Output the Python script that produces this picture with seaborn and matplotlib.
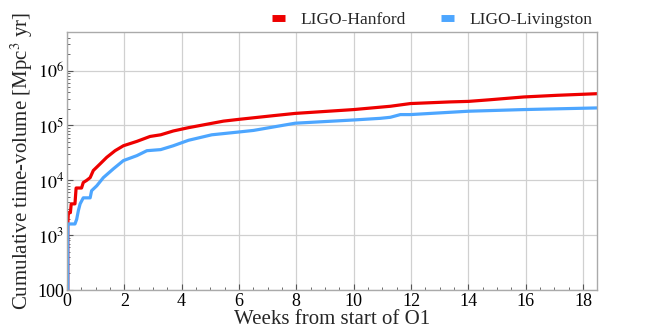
#!/usr/bin/env python3
# Cumulative time-volume per detector over O1 (log y), seaborn lineplot.

import numpy as np
import pandas as pd
import seaborn as sns
import matplotlib.pyplot as plt
from matplotlib.ticker import FuncFormatter, LogLocator, MultipleLocator

DETECTORS = ["LIGO-Hanford", "LIGO-Livingston"]
PALETTE   = ["#ee0000", "#4da6ff"]

# weeks from start of O1 / cumulative VT [Mpc^3 yr]
H1_WEEKS = [0.03, 0.03, 0.05, 0.12, 0.15, 0.28, 0.32, 0.51, 0.57, 0.69, 0.81, 0.92,
            1.16, 1.39, 1.68, 1.97, 2.44, 2.90, 3.27, 3.71, 4.24, 5.46, 5.98, 7.20,
            7.96, 10.0, 11.28, 11.98, 13.37, 14.01, 14.77, 15.93, 17.1, 18.5]
H1_VT    = [100, 1580, 2570, 2570, 3720, 3720, 7240, 7240, 9120, 10000, 11200, 15100,
            20000, 26300, 34700, 42700, 51300, 63100, 67600, 79400, 91200, 120000, 129000, 151000,
            166000, 195000, 224000, 251000, 269000, 275000, 295000, 331000, 355000, 380000]

L1_WEEKS = [0.03, 0.03, 0.28, 0.34, 0.40, 0.46, 0.57, 0.81, 0.86, 1.04, 1.27, 1.62,
            1.97, 2.44, 2.79, 3.27, 3.71, 4.24, 5.05, 5.98, 6.51, 7.96, 10.0, 10.93,
            11.28, 11.63, 11.98, 14.01, 15.93, 18.5]
L1_VT    = [100, 1600, 1600, 1950, 2820, 3720, 4790, 4790, 6460, 7940, 11200, 16200,
            22900, 28200, 34700, 36300, 42700, 53700, 67600, 75900, 81300, 110000, 126000, 135000,
            141000, 158000, 158000, 182000, 195000, 209000]

YTICKS = [1e2, 1e3, 1e4, 1e5, 1e6]


def ytick_fmt(v, pos):
    if np.isclose(v, 100):
        return "100"
    return r"$10^{%d}$" % int(round(np.log10(v)))


def main():
    df = pd.concat([
        pd.DataFrame({"weeks": H1_WEEKS, "vt": H1_VT, "det": DETECTORS[0]}),
        pd.DataFrame({"weeks": L1_WEEKS, "vt": L1_VT, "det": DETECTORS[1]}),
    ], ignore_index=True)

    sns.set_theme(style="whitegrid")
    plt.rcParams["font.family"] = ["Liberation Serif", "DejaVu Serif"]
    plt.rcParams["mathtext.fontset"] = "stix"

    fig = plt.figure(figsize=(6.64, 3.32), dpi=100)
    ax = fig.add_axes([0.1008, 0.1265, 0.7988, 0.7762])

    sns.lineplot(data=df, x="weeks", y="vt", hue="det", hue_order=DETECTORS,
                 palette=PALETTE, estimator=None, sort=False, linewidth=2.3, ax=ax)

    ax.set_yscale("log")
    ax.set_xlim(0, 18.5)
    ax.set_ylim(100, 5e6)
    ax.set_yticks(YTICKS)
    ax.yaxis.set_major_formatter(FuncFormatter(ytick_fmt))
    ax.yaxis.set_minor_locator(LogLocator(base=10, subs=np.arange(2, 10)))
    ax.xaxis.set_major_locator(MultipleLocator(2))
    ax.xaxis.set_minor_locator(MultipleLocator(0.5))

    ax.grid(True, which="major", color="#d0d0d0", linewidth=0.9)
    ax.grid(False, which="minor")
    for s in ax.spines.values():
        s.set_color("#aaaaaa")
        s.set_linewidth(1.0)
    ax.tick_params(which="both", direction="in", colors="#555555", labelcolor="black",
                   labelsize=13, pad=2)
    ax.tick_params(which="major", length=4, width=0.8, bottom=True, left=True)
    ax.tick_params(which="minor", length=2, width=0.6, bottom=True, left=True)

    ax.set_xlabel("Weeks from start of O1", fontsize=15, labelpad=0)
    ax.set_ylabel(r"Cumulative time-volume [Mpc$^3$ yr]", fontsize=15, labelpad=2)

    h, l = ax.get_legend_handles_labels()
    leg = ax.legend(h, l, loc="lower right", bbox_to_anchor=(1.003, 0.99), ncol=2,
                    frameon=False, fontsize=12.5, handlelength=0.75, handletextpad=0.85,
                    columnspacing=2.05, borderaxespad=0.0)
    for lh in leg.legend_handles:
        lh.set_linewidth(5)
        lh.set_solid_capstyle("butt")

    fig.savefig("out.png", dpi=100)


if __name__ == "__main__":
    main()
